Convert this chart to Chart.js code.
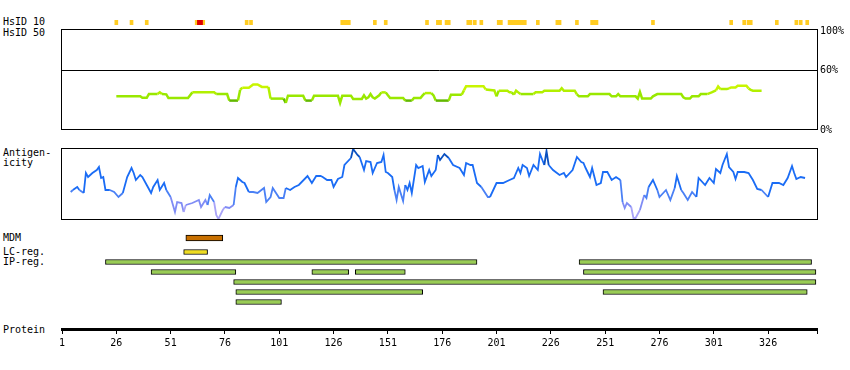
<!DOCTYPE html>
<html>
<head>
<meta charset="utf-8">
<script src="https://cdn.jsdelivr.net/npm/chart.js@4.4.0/dist/chart.umd.min.js"></script>
<style>
  body { margin: 0; background: #fff; }
  #wrap { position: relative; width: 850px; height: 370px; font-family: 'DejaVu Sans Mono', monospace; font-size: 10px; }
  #wrap canvas { position: absolute; left: 0; }
  .lbl { position: absolute; left: 3px; line-height: 10px; white-space: nowrap; color: #000; }
</style>
</head>
<body>
<div id="wrap">
  <div class="lbl" style="top:17px">HsID 10</div>
  <div class="lbl" style="top:28px">HsID 50</div>
  <div class="lbl" style="top:148px">Antigen-<br>icity</div>
  <div class="lbl" style="top:233px">MDM</div>
  <div class="lbl" style="top:247px">LC-reg.</div>
  <div class="lbl" style="top:257px">IP-reg.</div>
  <div class="lbl" style="top:325px">Protein</div>
  <canvas id="id10" width="850" height="8" style="top:18px"></canvas>
  <canvas id="id50" width="850" height="120" style="top:20px"></canvas>
  <canvas id="antigen" width="850" height="90" style="top:140px"></canvas>
  <canvas id="mdm" width="850" height="10" style="top:233px"></canvas>
  <canvas id="lcreg" width="850" height="10" style="top:247px"></canvas>
  <canvas id="ipreg" width="850" height="50" style="top:257px"></canvas>
  <canvas id="axis" width="850" height="49" style="top:301px"></canvas>
</div>
<script>
// protein length and axis ticks
const protLen = 348;
const axisTicks = [1, 26, 51, 76, 101, 126, 151, 176, 201, 226, 251, 276, 301, 326];

// HsID 10 marks (residues)
const hsid10Orange = [26, 33, 40, 63, 66, 86, 88, 130, 131, 132, 133, 145, 150, 169, 174, 175, 178, 179, 188, 189, 191, 194, 202, 203, 207, 208, 209, 210, 211, 212, 213, 214, 220, 229, 230, 238, 245, 246, 247, 273, 309, 315, 317, 318, 330, 339, 341, 344];
const hsid10Red = [64, 65];

// HsID 50 identity (%)
const idTicks = [0, 60, 100];
const idPos = [26,37,38,40,41,45,46,47,49,50,59,61,71,72,77,78,82,83,84,87,89,91,93,96,97,103,104,105,112,113,116,117,128,129,130,134,135,139,140,141,142,143,144,145,147,148,150,151,152,158,159,162,163,166,167,168,171,172,173,179,180,185,186,187,195,196,200,201,202,206,207,208,209,210,211,212,218,219,222,223,230,231,232,237,238,239,243,244,253,254,256,257,258,265,266,267,268,272,273,275,286,287,288,290,291,294,295,298,300,302,303,304,307,308,309,311,312,316,317,318,319,323];
const idVal = [34,34,32.5,32.5,36.3,36.3,38,36.3,36,32.3,32.3,38,38,36.3,36.3,29.7,29.7,40.7,42.7,42.7,46,46,43.5,43.5,31.7,31.7,27.3,34.7,34.7,29.7,29.7,34.7,34.7,27.3,34.7,34.7,31.3,31.3,35,31.7,33,36.3,33,31.7,35,38,38,35,32.3,32.3,29.7,29.7,32.3,32.3,35,37.3,37.3,35,29.7,29.7,35.7,35.7,40,44.3,44.3,41,40,34,39.7,39.7,38,38,35.7,39.7,38,36.3,36.3,38,38,39.7,39.7,42.3,39.7,39.7,36,34,34,36.3,36.3,34,34,36.3,34,34,31.7,38.3,31.7,31.7,34,36.3,36.3,33,31.7,31.7,34,34,36.3,36.3,38,40,44,41.3,41.3,42,43,43,44.7,44.7,42,40.5,39.7,39.7];

// antigenicity score (arbitrary units, 0..72)
const antPos = [5,6,8,9,11,12,13,15,17,18,19,20,21,23,25,27,29,31,33,34,35,37,38,40,42,43,45,46,48,49,51,53,54,56,57,58,61,64,65,67,68,69,71,72,73,75,76,78,80,81,82,84,85,87,89,91,94,95,97,98,101,103,104,106,108,110,114,116,118,120,121,123,125,126,128,130,131,134,135,137,138,140,141,143,144,146,148,149,150,151,153,154,155,156,158,159,160,161,162,164,165,167,168,170,171,173,174,175,177,179,181,184,186,187,189,190,192,194,197,198,201,204,207,209,211,212,213,215,216,218,220,221,223,224,225,227,230,232,233,236,238,240,241,242,244,245,247,249,250,252,254,256,258,259,260,261,263,264,265,267,269,270,271,273,275,276,279,281,283,284,286,287,289,291,293,294,297,299,301,302,304,305,307,308,310,311,312,315,317,319,321,323,326,328,331,333,335,337,338,339,341,343];
const antVal = [28,30,33,30,27,47,43,47,50,53,42,43,30,30,28,23,27,43,52,47,40,45,43,35,27,33,40,30,37,30,23,8,18,17,8,15,17,20,13,20,15,25,18,5,1,10,13,12,15,33,42,38,37,28,28,27,32,18,23,32,22,22,32,30,33,35,44,37,44,44,43,40,40,33,41,43,55,62,71,65,63,50,59,58,47,57,58,65,48,47,43,30,20,33,19,35,30,37,27,55,52,54,38,50,44,50,65,60,66,62,55,52,45,57,55,55,37,33,23,23,37,37,40,42,52,47,55,52,44,55,50,66,55,69,55,50,45,47,43,50,63,58,57,52,43,52,35,37,48,48,40,43,40,18,12,17,13,2,2,10,25,22,33,40,30,23,30,20,32,44,30,27,20,28,23,42,35,42,37,51,47,55,66,53,48,41,48,48,47,40,31,30,23,37,37,35,42,54,47,41,43,42];

// regions
const mdmStart = [58], mdmEnd = [75];
const lcStart = [57], lcEnd = [68];
const ipRows = ['r1', 'r2', 'r3', 'r4', 'r5'];
const ipRow = [0, 0, 1, 1, 1, 1, 2, 3, 3, 4];
const ipStart = [21, 239, 42, 116, 136, 241, 80, 81, 250, 81];
const ipEnd = [192, 346, 81, 133, 159, 348, 348, 167, 344, 102];

Chart.defaults.font.family = "'DejaVu Sans Mono', monospace";
Chart.defaults.font.size = 10;
Chart.defaults.color = '#000';

const xRange = { type: 'linear', min: 1, max: protLen + 0.5, display: false, offset: false };
const base = {
    responsive: false,
    animation: false,
    events: [],
    plugins: { legend: { display: false }, tooltip: { enabled: false } }
};

// black frame round the plot area
const boxPlugin = {
    id: 'box',
    afterDatasetsDraw(chart) {
        const a = chart.chartArea, ctx = chart.ctx;
        ctx.save();
        ctx.strokeStyle = '#000';
        ctx.lineWidth = 1;
        ctx.strokeRect(Math.round(a.left) - 0.5, Math.round(a.top) + 0.5,
            Math.round(a.right - a.left) + 1, Math.round(a.bottom - a.top) - 1);
        ctx.restore();
    }
};

function idColor(v) {
    if (v < 31) return '#62b800';
    if (v < 37) return '#99e800';
    if (v < 42) return '#b2f000';
    return '#c8f500';
}

function antColor(v) {
    if (v >= 62) return '#0a50c0';
    if (v >= 30) return '#1a6cf5';
    if (v >= 20) return '#4a80f5';
    if (v >= 12) return '#7f8cf5';
    return '#a9a4f8';
}

const points = (xs, ys) => xs.map((x, i) => ({ x: x, y: ys[i] }));

// HsID 10 track
new Chart(document.getElementById('id10'), {
    type: 'bar',
    data: {
        datasets: [
            { data: hsid10Red.map(r => ({ x: r, y: [0, 1] })), backgroundColor: '#dd0000' },
            { data: hsid10Orange.map(r => ({ x: r, y: [0, 1] })), backgroundColor: '#ffcc22' }
        ]
    },
    options: {
        ...base,
        layout: { padding: { left: 62, right: 33, top: 2, bottom: 1 } },
        datasets: { bar: { barThickness: 3, grouped: false } },
        scales: { x: xRange, y: { display: false, min: 0, max: 1 } }
    }
});

// HsID 50 panel
new Chart(document.getElementById('id50'), {
    type: 'line',
    data: {
        datasets: [{
            data: points(idPos, idVal),
            borderColor: '#99e800',
            borderWidth: 2.5,
            pointRadius: 0,
            segment: { borderColor: c => idColor((c.p0.parsed.y + c.p1.parsed.y) / 2) }
        }]
    },
    options: {
        ...base,
        layout: { padding: { left: 62, right: 0, top: 8, bottom: 10 } },
        scales: {
            x: xRange,
            y: {
                position: 'right', min: 0, max: 102,
                afterFit: s => { s.width = 33; },
                afterBuildTicks: s => { s.ticks = idTicks.map(v => ({ value: v })); },
                ticks: { padding: 3, callback: v => v + '%' },
                grid: {
                    drawTicks: false, lineWidth: 1,
                    color: c => (c.tick && c.tick.value === 60) ? '#000' : 'rgba(0,0,0,0)'
                },
                border: { display: false }
            }
        }
    },
    plugins: [boxPlugin]
});

// antigenicity panel
new Chart(document.getElementById('antigen'), {
    type: 'line',
    data: {
        datasets: [{
            data: points(antPos, antVal),
            borderColor: '#1a6cf5',
            borderWidth: 1.8,
            pointRadius: 0,
            segment: { borderColor: c => antColor((c.p0.parsed.y + c.p1.parsed.y) / 2) }
        }]
    },
    options: {
        ...base,
        layout: { padding: { left: 62, right: 33, top: 8, bottom: 10 } },
        scales: { x: xRange, y: { display: false, min: 0, max: 72 } }
    },
    plugins: [boxPlugin]
});

// region bars
function regionChart(id, rows, rowIdx, starts, ends, fill, thick) {
    new Chart(document.getElementById(id), {
        type: 'bar',
        data: {
            labels: rows,
            datasets: [{
                data: starts.map((s, i) => ({ x: [s, ends[i]], y: rows[rowIdx[i]] })),
                backgroundColor: fill,
                borderColor: '#000',
                borderWidth: 1,
                borderSkipped: false,
                barThickness: thick
            }]
        },
        options: {
            ...base,
            indexAxis: 'y',
            layout: { padding: { left: 62, right: 33, top: 0, bottom: 0 } },
            scales: { x: xRange, y: { display: false } }
        }
    });
}

regionChart('mdm', ['MDM'], [0], mdmStart, mdmEnd, '#c87000', 6);
regionChart('lcreg', ['LC'], [0], lcStart, lcEnd, '#eedc22', 5);
regionChart('ipreg', ipRows, ipRow, ipStart, ipEnd, '#99cc55', 5);

// protein axis
new Chart(document.getElementById('axis'), {
    type: 'line',
    data: { datasets: [] },
    options: {
        ...base,
        layout: { padding: { left: 62, right: 33, top: 0, bottom: 0 } },
        scales: {
            x: {
                type: 'linear', min: 1, max: protLen + 0.5, offset: false,
                afterBuildTicks: s => { s.ticks = axisTicks.concat([protLen + 0.5]).map(v => ({ value: v })); },
                afterFit: s => { s.height = 21; },
                ticks: {
                    autoSkip: false, maxRotation: 0, padding: 3,
                    callback: v => axisTicks.includes(v) ? String(v) : ''
                },
                grid: { drawOnChartArea: false, tickLength: 5, color: '#000', lineWidth: 1 },
                border: { color: '#000', width: 3 }
            },
            y: { display: false }
        }
    }
});
</script>
</body>
</html>
